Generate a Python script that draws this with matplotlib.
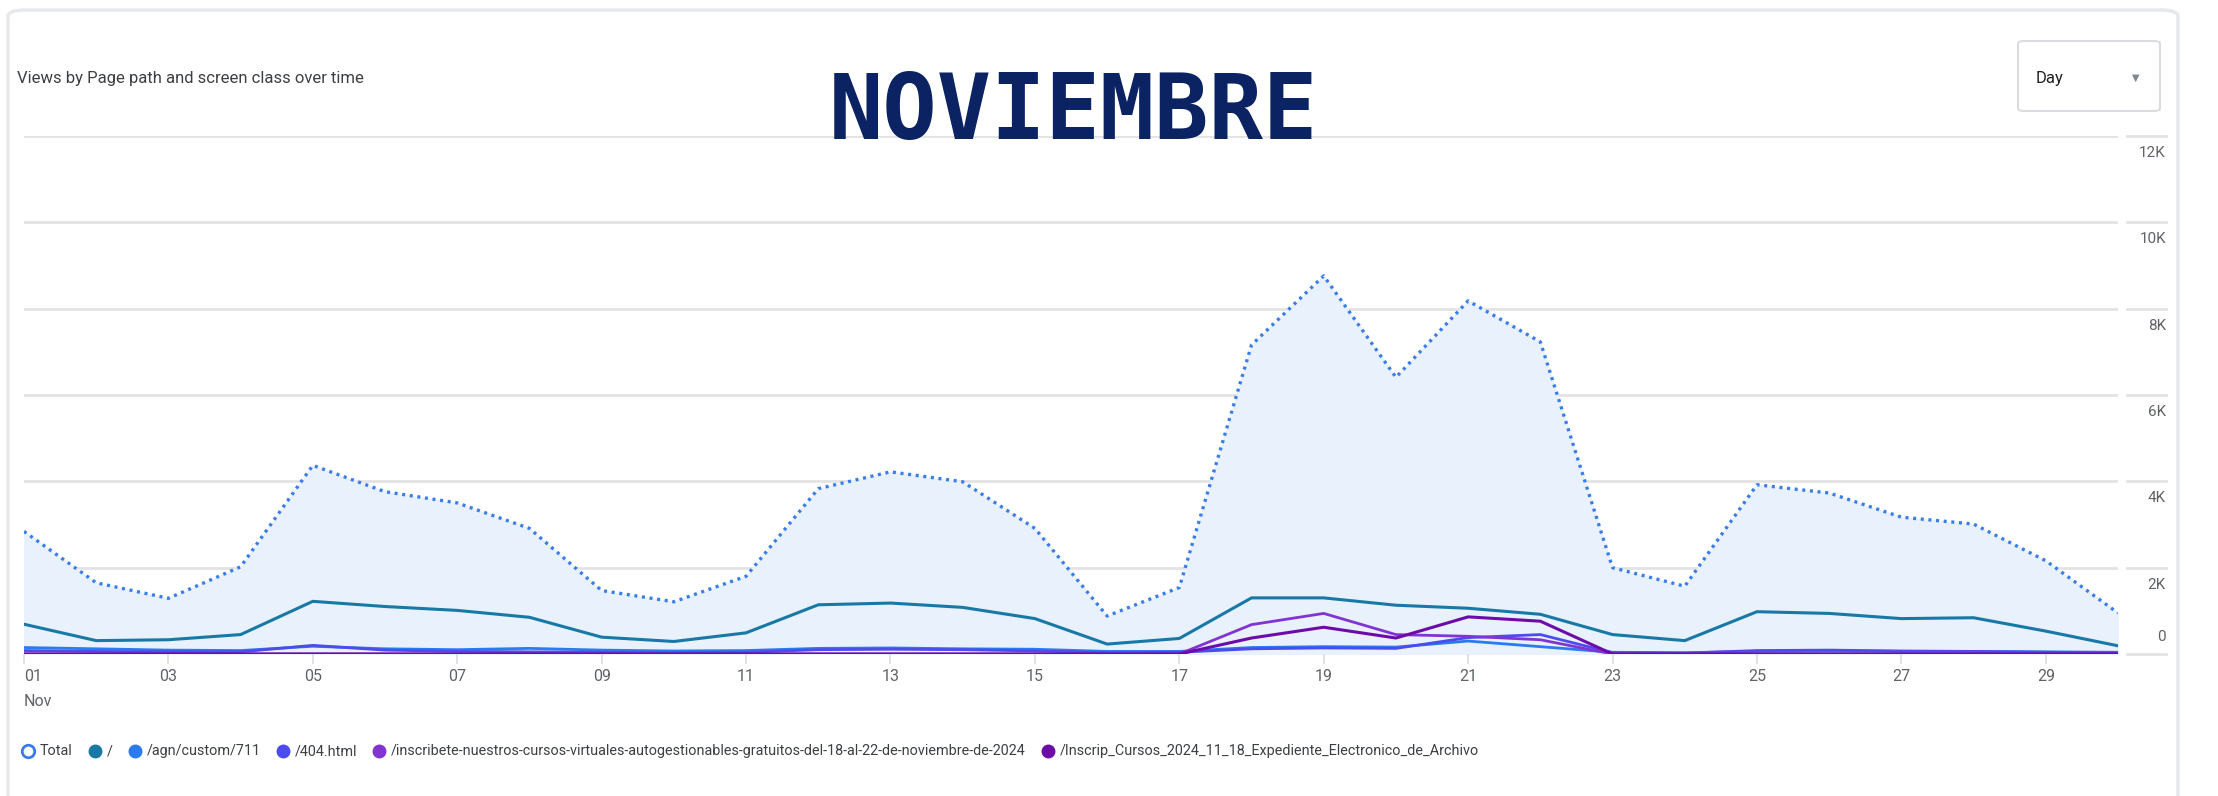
import numpy as np
import matplotlib
matplotlib.use('Agg')
import matplotlib.pyplot as plt
from matplotlib.patches import FancyBboxPatch
from matplotlib.lines import Line2D

# datos (vistas por dia, noviembre)
days = list(range(1, 31))
total = [2840, 1650, 1290, 2020, 4370, 3760, 3500, 2910, 1470, 1210,
         1800, 3830, 4220, 3990, 2910, 880, 1540, 7160, 8760, 6410,
         8180, 7230, 2000, 1570, 3920, 3730, 3170, 3010, 2160, 950]
home = [690, 310, 330, 450, 1220, 1100, 1010, 850, 390, 290,
        490, 1140, 1180, 1080, 820, 230, 360, 1300, 1300, 1130,
        1060, 920, 450, 310, 980, 940, 820, 840, 530, 190]
agn = [150, 120, 90, 80, 180, 120, 100, 130, 90, 70,
       80, 130, 140, 120, 110, 60, 60, 150, 170, 160,
       300, 170, 40, 30, 60, 70, 60, 60, 50, 40]
page404 = [80, 60, 50, 50, 200, 90, 60, 50, 40, 30,
           40, 100, 110, 100, 70, 30, 40, 120, 140, 130,
           380, 450, 30, 20, 80, 90, 70, 60, 40, 30]
inscribete = [0, 0, 0, 0, 0, 0, 0, 0, 0, 0,
              0, 0, 0, 0, 0, 0, 0, 680, 940, 450,
              410, 330, 0, 0, 0, 0, 0, 0, 0, 0]
inscrip = [0, 0, 0, 0, 0, 0, 0, 0, 0, 0,
           0, 0, 0, 0, 0, 0, 0, 370, 620, 370,
           860, 760, 0, 0, 0, 0, 0, 0, 0, 0]

series_names = ['Total', '/', '/agn/custom/711', '/404.html',
                '/inscribete-nuestros-cursos-virtuales-autogestionables-gratuitos-del-18-al-22-de-noviembre-de-2024',
                '/Inscrip_Cursos_2024_11_18_Expediente_Electronico_de_Archivo']
series_colors = ['#3b7de8', '#1878a6', '#2a7bef', '#4c4cee', '#8134d2', '#6c0ba8']
yticks = [0, 2000, 4000, 6000, 8000, 10000, 12000]
ytick_labels = ['0', '2K', '4K', '6K', '8K', '10K', '12K']
xtick_days = list(range(1, 31, 2))

W, H = 2218, 796
plt.rcParams['font.family'] = ['Roboto', 'DejaVu Sans']
fig = plt.figure(figsize=(W / 100, H / 100), dpi=100)
fig.patch.set_facecolor('white')

def fx(px):
    return px / W

def fy(py):
    return 1 - py / H

# tarjeta
card = FancyBboxPatch((fx(8), fy(900)), fx(2178) - fx(8), fy(10) - fy(900),
                      boxstyle='round,pad=0,rounding_size=0.008',
                      transform=fig.transFigure, facecolor='white',
                      edgecolor='#e6e8eb', linewidth=2.5, zorder=-10)
fig.patches.append(card)

x0, x1 = 24, 2118
y0, y1 = 654, 136
ax = fig.add_axes([fx(x0), fy(y0), fx(x1) - fx(x0), fy(y1) - fy(y0)])
ax.set_zorder(2)
ax.set_xlim(1, 30)
ax.set_ylim(0, 12000)
for s in ax.spines.values():
    s.set_visible(False)
ax.set_facecolor('none')

ax_w = x1 - x0
seg_a = (2127 - x0) / ax_w
seg_b = (2166 - x0) / ax_w

# rejilla
for v, lab in zip(yticks, ytick_labels):
    ax.axhline(v, color='#e3e3e3', lw=2, zorder=0)
    ax.plot([seg_a, seg_b], [v, v], transform=ax.get_yaxis_transform(),
            color='#e3e3e3', lw=2, clip_on=False)
    if v == 0:
        ax.text(seg_b, v + 230, lab, transform=ax.get_yaxis_transform(), ha='right', va='bottom',
                fontsize=11, color='#5f6368')
    else:
        ax.text(seg_b, v - 230, lab, transform=ax.get_yaxis_transform(), ha='right', va='top',
                fontsize=11, color='#5f6368')
ax.set_yticks([])

ax.set_xticks(xtick_days)
ax.set_xticklabels(['%02d' % d for d in xtick_days], fontsize=11.5, color='#5f6368')
ax.tick_params(axis='x', length=7, color='#dadce0', width=1.2, pad=4)
ax.get_xticklabels()[0].set_horizontalalignment('left')
ax.text(1, -0.078, 'Nov', transform=ax.get_xaxis_transform(), ha='left', va='top',
        fontsize=11.5, color='#5f6368')

# series
ax.fill_between(days, 0, total, color='#e9f1fd', zorder=1)
ax.plot(days, total, color=series_colors[0], lw=2.4, linestyle=(0, (0.9, 1.4)), zorder=5)
ax.plot(days, home, color=series_colors[1], lw=2.2, zorder=4)
ax.plot(days, agn, color=series_colors[2], lw=2.0, zorder=3)
ax.plot(days, page404, color=series_colors[3], lw=2.0, zorder=3)
ax.plot(days, inscribete, color=series_colors[4], lw=2.0, zorder=3)
ax.plot(days, inscrip, color=series_colors[5], lw=2.2, zorder=3)

# textos
fig.text(fx(17), fy(79), 'Views by Page path and screen class over time', ha='left', va='center',
         fontsize=12, color='#3c4043')
fig.text(fx(1073), fy(114), 'NOVIEMBRE', ha='center', va='center', fontsize=65,
         fontweight='bold', color='#0b2363', family='DejaVu Sans Mono')

# selector "Day"
box = FancyBboxPatch((fx(2018), fy(111)), fx(2160) - fx(2018), fy(41) - fy(111),
                     boxstyle='round,pad=0,rounding_size=0.003', transform=fig.transFigure,
                     facecolor='white', edgecolor='#dadce0', linewidth=1.5)
fig.patches.append(box)
fig.text(fx(2036), fy(78), 'Day', ha='left', va='center', fontsize=12, color='#202124')
fig.text(fx(2136), fy(78), '\u25BC', ha='center', va='center', fontsize=7, color='#80868b',
         family='DejaVu Sans')

# leyenda
fig.canvas.draw()
renderer = fig.canvas.get_renderer()
lx = 28
ly = fy(751)
for i, name in enumerate(series_names):
    if i == 0:
        fig.add_artist(Line2D([fx(lx)], [ly], marker='o', markersize=9, markerfacecolor='white',
                              markeredgecolor=series_colors[0], markeredgewidth=2,
                              transform=fig.transFigure))
    else:
        fig.add_artist(Line2D([fx(lx)], [ly], marker='o', markersize=9, markerfacecolor=series_colors[i],
                              markeredgecolor=series_colors[i], transform=fig.transFigure))
    t = fig.text(fx(lx + 12), ly, name, ha='left', va='center', fontsize=10.4, color='#3c4043')
    bb = t.get_window_extent(renderer)
    lx = lx + 12 + bb.width + 22

fig.savefig('out.png', dpi=100)
